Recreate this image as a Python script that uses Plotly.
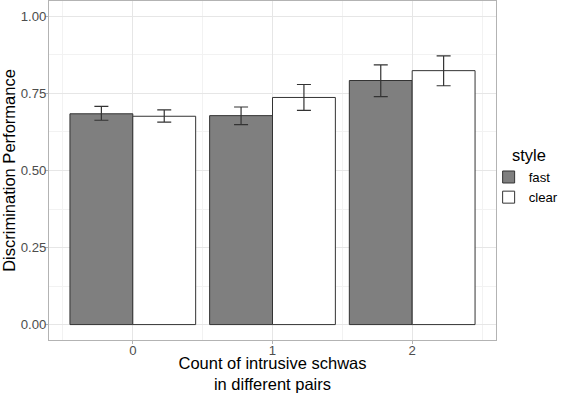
import plotly.graph_objects as go

# Data
counts = [0, 1, 2]
tick_labels = ["0", "1", "2"]
styles = ["fast", "clear"]
fast_mean = [0.684, 0.678, 0.792]
fast_low = [0.663, 0.649, 0.740]
fast_high = [0.708, 0.706, 0.843]
clear_mean = [0.676, 0.737, 0.824]
clear_low = [0.657, 0.695, 0.775]
clear_high = [0.697, 0.779, 0.872]
y_ticks = [0.0, 0.25, 0.5, 0.75, 1.0]
legend_title = "style"

FONT = "Liberation Sans, Arial, sans-serif"
fills = {"fast": "#7F7F7F", "clear": "#FFFFFF"}
series = {
    "fast": (fast_mean, fast_low, fast_high),
    "clear": (clear_mean, clear_low, clear_high),
}

fig = go.Figure()
for s in styles:
    m, lo, hi = series[s]
    fig.add_trace(go.Bar(
        x=counts, y=m, name=s,
        marker=dict(color=fills[s], line=dict(color="#333333", width=1)),
        error_y=dict(
            type="data", symmetric=False,
            array=[h - v for h, v in zip(hi, m)],
            arrayminus=[v - l for v, l in zip(m, lo)],
            color="#333333", thickness=1.2, width=7,
        ),
    ))

grid_major = "#E6E6E6"
grid_minor = "#F2F2F2"
fig.update_layout(
    width=561, height=393,
    margin=dict(l=49, r=65, t=1, b=53, autoexpand=False),
    paper_bgcolor="white", plot_bgcolor="white",
    barmode="group", bargap=0.1, bargroupgap=0,
    font=dict(family=FONT, color="#000000"),
    showlegend=True,
    legend=dict(
        font=dict(size=13.2, color="#000000"),
        xref="container", yref="container",
        x=0.871, xanchor="left", y=0.588, yanchor="top",
        tracegroupgap=0, itemwidth=30, bgcolor="rgba(0,0,0,0)",
    ),
    annotations=[dict(
        text=legend_title, xref="paper", yref="paper",
        x=1.031, y=0.546, xanchor="left", yanchor="middle",
        showarrow=False, font=dict(size=16.5, color="#000000"),
    )],
    xaxis=dict(
        range=[-0.6, 2.6], tickmode="array", tickvals=counts, ticktext=tick_labels,
        ticks="outside", ticklen=3, tickcolor="#B3B3B3",
        tickfont=dict(size=13.2, color="#4D4D4D"), ticklabelstandoff=-5,
        showgrid=True, gridcolor=grid_major, gridwidth=1,
        minor=dict(tick0=0.5, dtick=1, showgrid=True, gridcolor=grid_minor, gridwidth=1),
        showline=True, linecolor="#B3B3B3", linewidth=1, mirror=True,
        zeroline=False, automargin=False,
        title=dict(text="Count of intrusive schwas<br>in different pairs",
                   font=dict(size=16.5, color="#000000"), standoff=1),
    ),
    yaxis=dict(
        range=[-0.05, 1.05], tickmode="array", tickvals=y_ticks, tickformat=".2f",
        ticks="outside", ticklen=3, tickcolor="#B3B3B3",
        tickfont=dict(size=13.2, color="#4D4D4D"), ticklabelstandoff=-4,
        showgrid=True, gridcolor=grid_major, gridwidth=1,
        minor=dict(tick0=0.125, dtick=0.25, showgrid=True, gridcolor=grid_minor, gridwidth=1),
        showline=True, linecolor="#B3B3B3", linewidth=1, mirror=True,
        zeroline=False, automargin=False,
        title=dict(text="Discrimination Performance",
                   font=dict(size=16.5, color="#000000"), standoff=0),
    ),
)

fig.write_html("out.html", config={"displayModeBar": False},
               post_script="document.body.style.margin='0';")
